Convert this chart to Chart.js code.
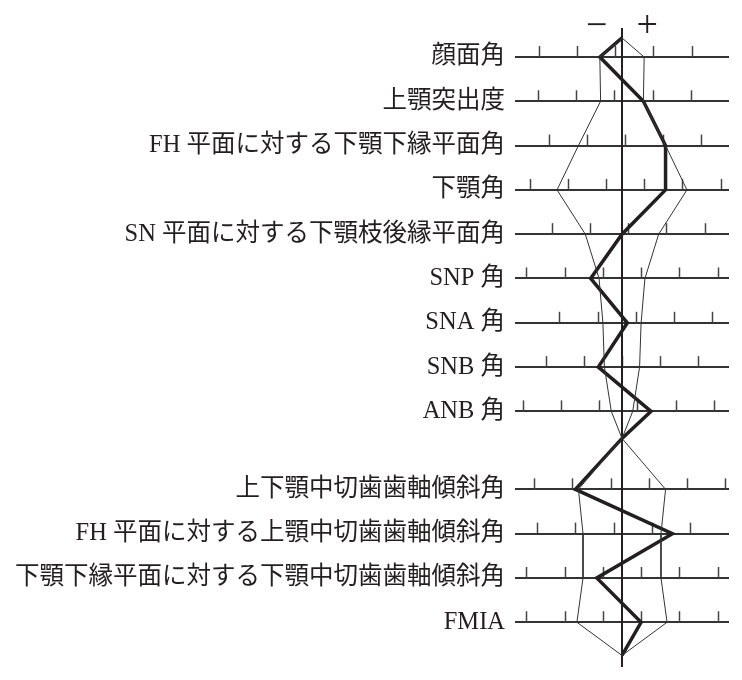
<!DOCTYPE html>
<html>
<head>
<meta charset="utf-8">
<script src="https://cdn.jsdelivr.net/npm/chart.js@4.4.1/dist/chart.umd.min.js"></script>
<style>
html,body{margin:0;padding:0;background:#ffffff;}
#wrap{width:742px;height:680px;}
</style>
</head>
<body>
<div id="wrap"><canvas id="c" width="742" height="680"></canvas></div>
<script>
// ---- data ----
const categories = [
  '顔面角',
  '上顎突出度',
  'FH 平面に対する下顎下縁平面角',
  '下顎角',
  'SN 平面に対する下顎枝後縁平面角',
  'SNP 角',
  'SNA 角',
  'SNB 角',
  'ANB 角',
  '上下顎中切歯歯軸傾斜角',
  'FH 平面に対する上顎中切歯歯軸傾斜角',
  '下顎下縁平面に対する下顎中切歯歯軸傾斜角',
  'FMIA'
];
const groupOf = [0,0,0,0,0,0,0,0,0,1,1,1,1];           // 0: skeletal, 1: dental
const normMean = [85.9, 6.0, 29.6, 122.1, 89.2, 77.5, 83.2, 80.0, 3.0, 126.5, 111.1, 92.5, 57.5];
const normSD   = [2.9, 2.8, 5.7, 8.5, 4.8, 3.0, 2.5, 2.3, 1.4, 5.7, 5.1, 5.1, 5.9];
const patientValues = [83.0, 8.8, 35.3, 127.8, 89.2, 73.4, 83.9, 76.9, 6.8, 120.4, 117.7, 89.2, 60.0];
const scaleTicks = [
  [75, 80, 85, 90, 95],
  [-5, 0, 5, 10, 15],
  [20, 25, 30, 35, 40],
  [110, 115, 120, 125, 130, 135],
  [80, 85, 90, 95, 100],
  [65, 70, 75, 80, 85, 90],
  [75, 80, 85, 90, 95],
  [70, 75, 80, 85, 90],
  [-10, -5, 0, 5, 10, 15],
  [115, 120, 125, 130, 135, 140],
  [100, 105, 110, 115, 120],
  [80, 85, 90, 95, 100, 105],
  [45, 50, 55, 60, 65, 70]
];
const signLabels = ['−', '+'];

// ---- layout (row units / deviation units) ----
const ROW_GAP = 0.76, TOP_Y = 0.57, MID_Y = 9.61, BOTTOM_Y = 14.51;
const Y_MIN = 0.481, Y_MAX = 14.77, CENTER_TOP = 0.345, X_HALF = 14, SIGN_X = 3.3;
const rowY = categories.map((_, i) => i + 1 + groupOf[i] * ROW_GAP);

function profile(devFn) {
  const pts = [{x: 0, y: TOP_Y}];
  categories.forEach((_, i) => {
    if (i > 0 && groupOf[i] !== groupOf[i - 1]) pts.push({x: 0, y: MID_Y});
    pts.push({x: devFn(i), y: rowY[i]});
  });
  pts.push({x: 0, y: BOTTOM_Y});
  return pts;
}

const scaleMarks = {
  id: 'scaleMarks',
  beforeDatasetsDraw(chart) {
    const {ctx, scales: {x, y}} = chart;
    ctx.save();
    ctx.strokeStyle = '#444444';
    ctx.lineWidth = 1.5;
    categories.forEach((_, i) => {
      const py = y.getPixelForValue(rowY[i]);
      scaleTicks[i].forEach(t => {
        const px = Math.round(x.getPixelForValue(t - normMean[i])) + 0.5;
        ctx.beginPath();
        ctx.moveTo(px, py);
        ctx.lineTo(px, py - 11);
        ctx.stroke();
      });
    });
    ctx.restore();
  }
};

const labelFont = "'Liberation Serif', 'Noto Sans CJK JP'";

new Chart(document.getElementById('c'), {
  type: 'scatter',
  data: {
    datasets: [
      {data: profile(i => -normSD[i]), showLine: true, borderColor: '#333333', borderWidth: 1, pointRadius: 0, tension: 0},
      {data: profile(i => normSD[i]), showLine: true, borderColor: '#333333', borderWidth: 1, pointRadius: 0, tension: 0},
      {data: profile(i => patientValues[i] - normMean[i]), showLine: true, borderColor: '#231f20', borderWidth: 3.5, pointRadius: 0, tension: 0, borderJoinStyle: 'miter'},
      {data: [{x: 0, y: CENTER_TOP}, {x: 0, y: Y_MAX}], showLine: true, borderColor: '#231f20', borderWidth: 2, pointRadius: 0, clip: false}
    ]
  },
  options: {
    responsive: false,
    animation: false,
    devicePixelRatio: 1,
    layout: {padding: {top: 0, right: 13, bottom: 13, left: 0}},
    plugins: {legend: {display: false}, tooltip: {enabled: false}},
    scales: {
      x: {
        type: 'linear', position: 'top', min: -X_HALF, max: X_HALF,
        afterBuildTicks(s) { s.ticks = [{value: -SIGN_X}, {value: SIGN_X}]; },
        afterFit(s) { s.height = 34; s.paddingLeft = 0; s.paddingRight = 0; },
        ticks: {
          autoSkip: false, maxRotation: 0, padding: -12, color: '#231f20',
          font: {family: "'Liberation Serif'", size: 38, lineHeight: 1},
          callback: (v, i) => signLabels[i]
        },
        grid: {display: false, drawTicks: false},
        border: {display: false}
      },
      y: {
        type: 'linear', reverse: true, min: Y_MIN, max: Y_MAX,
        afterBuildTicks(s) { s.ticks = rowY.map(v => ({value: v})); },
        afterFit(s) { s.width = 515; s.paddingTop = 0; s.paddingBottom = 0; },
        ticks: {
          autoSkip: false, padding: 10, color: '#231f20',
          font: {family: labelFont, size: 24.5},
          callback: (v, i) => categories[i]
        },
        grid: {drawTicks: false, lineWidth: 2, color: '#333333'},
        border: {display: false}
      }
    }
  },
  plugins: [scaleMarks]
});
</script>
</body>
</html>
